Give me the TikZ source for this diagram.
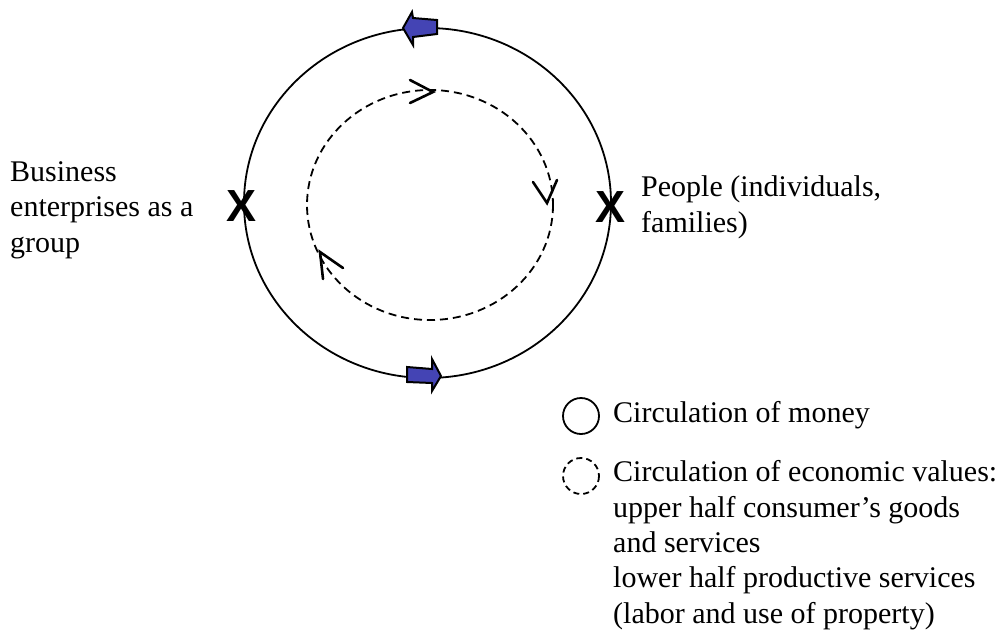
\documentclass[tikz,border=0pt]{standalone}
\usepackage{fontspec}
\setmainfont{Liberation Serif}
\newfontfamily\xfont{Liberation Sans}
\definecolor{arrowblue}{RGB}{68,68,180}
\begin{document}
\begin{tikzpicture}[x=1pt,y=-1pt,
  lbl/.style={inner sep=0pt, align=left, anchor=base west, font=\fontsize{30}{35.3}\selectfont},
  xmark/.style={inner sep=0pt, font=\xfont\bfseries\fontsize{45}{45}\selectfont},
  money/.style={draw=black, line width=1.8pt},
  values/.style={draw=black, line width=1.8pt, dash pattern=on 8pt off 5pt},
  barb/.style={draw=black, line width=2.6pt, line cap=round},
  block/.style={draw=black, line width=2pt, fill=arrowblue, line join=miter}]
\useasboundingbox (0,0) rectangle (1007,641);
% circulation of money
\draw[money] (427.5,203) ellipse [x radius=183.5, y radius=175];
% circulation of economic values
\draw[values] (430,205) ellipse [x radius=123, y radius=115];
% block arrows on the money circle
\draw[block] (403,28) -- (412,12) -- (413,18) -- (437,20) -- (437,34) -- (413,37) -- (413,45) -- cycle;
\draw[block] (407,367) -- (432,369) -- (432,359) -- (441,376) -- (432,391) -- (432,383) -- (407,382) -- cycle;
% open arrowheads on the values circle
\coordinate (t1) at (433,92);
\coordinate (r1) at (547,203);
\coordinate (l1) at (320,252);
\draw[barb] (410,80) -- (t1) -- (410,103);
\draw[barb] (533,182) -- (r1) -- (557,180);
\draw[barb] (323,279) -- (l1) -- (343,268);
% X marks
\node[xmark] (xl) at (242,206) {X};
\node[xmark] (xr) at (611,207) {X};
% labels (base anchor = baseline of the last line)
\node[lbl] (business) at (10,252) {Business\\enterprises as a\\group};
\node[lbl] (people) at (641,232) {People (individuals,\\families)};
% legend
\draw[money] (581,416) circle [radius=18];
\node[lbl] (lmoney) at (613,422) {Circulation of money};
\draw[values, dash pattern=on 6pt off 4pt] (581,476) circle [radius=18];
\node[lbl] (lvalues) at (613,623) {Circulation of economic values:\\upper half consumer’s goods\\and services\\lower half productive services\\(labor and use of property)};
\end{tikzpicture}
\end{document}
